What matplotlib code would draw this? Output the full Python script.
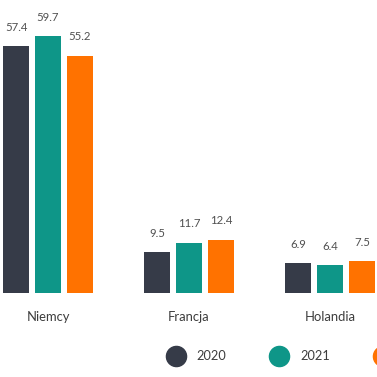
import matplotlib
matplotlib.use("Agg")
import matplotlib.pyplot as plt
from matplotlib.lines import Line2D
import numpy as np

# data
countries = ["Niemcy", "Francja", "Holandia"]
years = ["2020", "2021", "2022"]
v2020 = [57.4, 9.5, 6.9]
v2021 = [59.7, 11.7, 6.4]
v2022 = [55.2, 12.4, 7.5]
colors = ["#363b48", "#0e9688", "#ff7200"]

plt.rcParams["font.family"] = ["Lato", "DejaVu Sans"]
text_col = "#3d3d3d"

fig = plt.figure(figsize=(3.77, 3.77), dpi=100)
ax = fig.add_axes([0, 84 / 377, 1, 293 / 377])

x = np.arange(len(countries))
width = 26 / 141
step = 32 / 141
series = [v2020, v2021, v2022]
for i, vals in enumerate(series):
    bars = ax.bar(x + (i - 1) * step, vals, width=width, color=colors[i], label=years[i])
    # value labels above each bar
    for b, v in zip(bars, vals):
        ax.annotate(f"{v}", (b.get_x() + b.get_width() / 2, v),
                    xytext=(0, 13.5), textcoords="offset points",
                    ha="center", va="center", fontsize=8.2, color="#505050")

ax.set_xlim(-48 / 141, 329 / 141)
ax.set_ylim(0, 293 / 4.30)
ax.set_xticks(x)
ax.set_xticklabels(countries, fontsize=9.4, color=text_col)
ax.tick_params(axis="x", length=0, pad=13)
ax.set_yticks([])
for s in ax.spines.values():
    s.set_visible(False)

# legend runs off the right edge, as in the source
handles = [Line2D([], [], ls="", marker="o", markersize=14.5, color=c) for c in colors]
fig.legend(handles, years, loc="center left", bbox_to_anchor=(166 / 377, 1 - 356 / 377),
           ncol=3, frameon=False, fontsize=9.2, labelcolor=text_col,
           handlelength=1.6, handletextpad=0.8, columnspacing=3.35,
           borderpad=0, borderaxespad=0)

fig.savefig("out.png", dpi=100)
